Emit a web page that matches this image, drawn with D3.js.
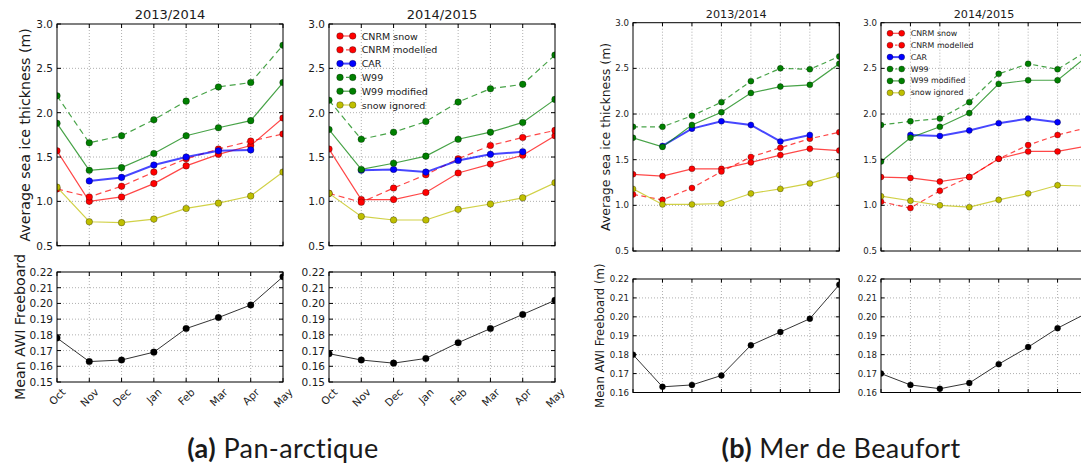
<!DOCTYPE html>
<html>
<head>
<meta charset="utf-8">
<script src="https://cdn.jsdelivr.net/npm/d3@7"></script>
<style>
  body { margin: 0; background: #fff; }
  svg { display: block; }
  text { font-family: "DejaVu Sans", sans-serif; fill: #1a1a1a; }
</style>
</head>
<body>
<svg id="chart" width="1081" height="466"></svg>
<script>
// Months on the x axis
const months = ["Oct", "Nov", "Dec", "Jan", "Feb", "Mar", "Apr", "May"];

// Pan-arctic, 2013/2014 (m)
const panCnrmSnow13  = [1.57, 1.00, 1.05, 1.20, 1.40, 1.53, 1.63, 1.94];
const panCnrmModel13 = [1.14, 1.05, 1.17, 1.33, 1.48, 1.59, 1.68, 1.76];
const panCar13       = [null, 1.23, 1.27, 1.41, 1.50, 1.57, 1.58, null];
const panW99_13      = [2.19, 1.66, 1.74, 1.92, 2.13, 2.29, 2.34, 2.76];
const panW99mod13    = [1.88, 1.35, 1.38, 1.54, 1.74, 1.83, 1.91, 2.34];
const panSnowIgn13   = [1.16, 0.77, 0.76, 0.80, 0.92, 0.98, 1.06, 1.33];

// Pan-arctic, 2014/2015 (m)
const panCnrmSnow14  = [1.59, 1.02, 1.02, 1.10, 1.32, 1.42, 1.52, 1.74];
const panCnrmModel14 = [1.09, 0.99, 1.15, 1.30, 1.48, 1.63, 1.72, 1.80];
const panCar14       = [null, 1.35, 1.36, 1.33, 1.46, 1.53, 1.56, null];
const panW99_14      = [2.14, 1.70, 1.78, 1.90, 2.12, 2.27, 2.32, 2.65];
const panW99mod14    = [1.81, 1.36, 1.43, 1.51, 1.70, 1.78, 1.89, 2.15];
const panSnowIgn14   = [1.09, 0.83, 0.79, 0.79, 0.91, 0.97, 1.04, 1.21];

// Pan-arctic mean AWI freeboard
const panFb13 = [0.178, 0.163, 0.164, 0.169, 0.184, 0.191, 0.199, 0.217];
const panFb14 = [0.168, 0.164, 0.162, 0.165, 0.175, 0.184, 0.193, 0.202];

// Beaufort Sea, 2013/2014 (m)
const bfCnrmSnow13  = [1.34, 1.32, 1.40, 1.40, 1.47, 1.55, 1.62, 1.60];
const bfCnrmModel13 = [1.12, 1.06, 1.19, 1.37, 1.53, 1.63, 1.73, 1.80];
const bfCar13       = [null, 1.65, 1.84, 1.92, 1.88, 1.70, 1.77, null];
const bfW99_13      = [1.86, 1.86, 1.98, 2.13, 2.36, 2.50, 2.49, 2.63];
const bfW99mod13    = [1.74, 1.64, 1.88, 2.02, 2.23, 2.30, 2.32, 2.55];
const bfSnowIgn13   = [1.18, 1.01, 1.01, 1.02, 1.13, 1.18, 1.24, 1.33];

// Beaufort Sea, 2014/2015 (m)
const bfCnrmSnow14  = [1.31, 1.30, 1.26, 1.31, 1.51, 1.59, 1.59, 1.65];
const bfCnrmModel14 = [1.04, 0.97, 1.16, 1.31, 1.51, 1.66, 1.77, 1.85];
const bfCar14       = [null, 1.77, 1.76, 1.82, 1.90, 1.95, 1.91, null];
const bfW99_14      = [1.88, 1.92, 1.95, 2.13, 2.44, 2.55, 2.49, 2.69];
const bfW99mod14    = [1.48, 1.74, 1.86, 2.01, 2.33, 2.37, 2.37, 2.63];
const bfSnowIgn14   = [1.10, 1.05, 1.00, 0.98, 1.06, 1.13, 1.22, 1.21];

// Beaufort Sea mean AWI freeboard
const bfFb13 = [0.180, 0.163, 0.164, 0.169, 0.185, 0.192, 0.199, 0.217];
const bfFb14 = [0.170, 0.164, 0.162, 0.165, 0.175, 0.184, 0.194, 0.202];

// Tick values
const thickTicks = [0.5, 1.0, 1.5, 2.0, 2.5, 3.0];
const panFbTicks = [0.15, 0.16, 0.17, 0.18, 0.19, 0.20, 0.21, 0.22];
const bfFbTicks  = [0.16, 0.17, 0.18, 0.19, 0.20, 0.21, 0.22];

// Series styles (legend order = drawing order)
const seriesStyle = [
    { label: "CNRM snow",     color: "#ff0000", dashed: false, lw: 1.2 },
    { label: "CNRM modelled", color: "#ff0000", dashed: true,  lw: 1.2 },
    { label: "CAR",           color: "#0000ff", dashed: false, lw: 2 },
    { label: "W99",           color: "#008000", dashed: true,  lw: 1.2 },
    { label: "W99 modified",  color: "#008000", dashed: false, lw: 1.2 },
    { label: "snow ignored",  color: "#bfbf00", dashed: false, lw: 1.2 }
];

const svg = d3.select("#chart");
let clipCount = 0;

function withStyle(values) {
    return values.map((v, i) => Object.assign({ values: v }, seriesStyle[i]));
}

function drawPanel(cfg) {
    const x = d3.scalePoint().domain(months).range([cfg.x0, cfg.x1]);
    const y = d3.scaleLinear().domain(cfg.yDomain).range([cfg.y1, cfg.y0]);
    const g = svg.append("g");

    // clip to the axes box, like matplotlib
    const id = "clip" + (clipCount++);
    svg.append("clipPath").attr("id", id)
        .append("rect")
        .attr("x", cfg.x0).attr("y", cfg.y0)
        .attr("width", cfg.x1 - cfg.x0).attr("height", cfg.y1 - cfg.y0);

    // dotted grid
    g.selectAll(".vgrid").data(months.slice(1, -1)).join("line")
        .attr("x1", d => x(d)).attr("x2", d => x(d))
        .attr("y1", cfg.y0).attr("y2", cfg.y1)
        .attr("stroke", "#8c8c8c").attr("stroke-width", 0.7)
        .attr("stroke-dasharray", "1,2");
    g.selectAll(".hgrid").data(cfg.yTicks.slice(1, -1)).join("line")
        .attr("x1", cfg.x0).attr("x2", cfg.x1)
        .attr("y1", d => y(d)).attr("y2", d => y(d))
        .attr("stroke", "#8c8c8c").attr("stroke-width", 0.7)
        .attr("stroke-dasharray", "1,2");

    // series
    const pg = g.append("g").attr("clip-path", `url(#${id})`);
    cfg.rows.forEach(s => {
        const pts = months.map((m, i) => ({ m: m, v: s.values[i] })).filter(d => d.v != null);
        const line = d3.line().x(d => x(d.m)).y(d => y(d.v));
        pg.append("path")
            .attr("d", line(pts))
            .attr("fill", "none")
            .attr("stroke", s.color)
            .attr("stroke-opacity", s.color === "#000" ? 0.8 : 0.72)
            .attr("stroke-width", s.lw)
            .attr("stroke-dasharray", s.dashed ? cfg.dash : null);
        pg.selectAll(null).data(pts).join("circle")
            .attr("cx", d => x(d.m))
            .attr("cy", d => y(d.v))
            .attr("r", cfg.r)
            .attr("fill", s.color)
            .attr("stroke", "#000").attr("stroke-opacity", 0.6)
            .attr("stroke-width", 0.5);
    });

    // frame
    g.append("rect")
        .attr("x", cfg.x0).attr("y", cfg.y0)
        .attr("width", cfg.x1 - cfg.x0).attr("height", cfg.y1 - cfg.y0)
        .attr("fill", "none").attr("stroke", "#000").attr("stroke-width", 1);

    // inward ticks on all sides
    const tl = cfg.tickLen;
    cfg.yTicks.forEach(t => {
        g.append("line").attr("x1", cfg.x0).attr("x2", cfg.x0 + tl)
            .attr("y1", y(t)).attr("y2", y(t)).attr("stroke", "#000");
        g.append("line").attr("x1", cfg.x1 - tl).attr("x2", cfg.x1)
            .attr("y1", y(t)).attr("y2", y(t)).attr("stroke", "#000");
    });
    months.forEach(m => {
        g.append("line").attr("x1", x(m)).attr("x2", x(m))
            .attr("y1", cfg.y1).attr("y2", cfg.y1 - tl).attr("stroke", "#000");
        g.append("line").attr("x1", x(m)).attr("x2", x(m))
            .attr("y1", cfg.y0).attr("y2", cfg.y0 + tl).attr("stroke", "#000");
    });

    // y tick labels
    g.selectAll(".ylab").data(cfg.yTicks).join("text")
        .attr("x", cfg.x0 - 4)
        .attr("y", d => y(d))
        .attr("text-anchor", "end")
        .attr("dominant-baseline", "central")
        .style("font-size", cfg.tickFont + "px")
        .text(d => d3.format(cfg.fmt)(d));

    // rotated month labels
    if (cfg.showX) {
        months.forEach(m => {
            const t = g.append("text")
                .attr("text-anchor", "middle")
                .attr("dominant-baseline", "central")
                .style("font-size", cfg.tickFont + "px")
                .text(m);
            const w = t.node().getComputedTextLength();
            const h = cfg.tickFont * 1.1;
            const cy = cfg.y1 + 4 + (w + h) * 0.7071 / 2;
            t.attr("transform", `translate(${x(m)},${cy}) rotate(-45)`);
        });
    }

    if (cfg.title) {
        g.append("text")
            .attr("x", (cfg.x0 + cfg.x1) / 2)
            .attr("y", cfg.y0 - 5)
            .attr("text-anchor", "middle")
            .style("font-size", cfg.titleFont + "px")
            .text(cfg.title);
    }

    if (cfg.ylabel) {
        g.append("text")
            .attr("transform", `translate(${cfg.ylabelX},${(cfg.y0 + cfg.y1) / 2}) rotate(-90)`)
            .attr("text-anchor", "middle")
            .attr("dominant-baseline", "central")
            .style("font-size", cfg.ylabelFont + "px")
            .text(cfg.ylabel);
    }

    if (cfg.legend) {
        const L = cfg.legend;
        seriesStyle.forEach((s, i) => {
            const yy = L.y + i * L.step;
            g.append("line")
                .attr("x1", L.x).attr("x2", L.x + L.w)
                .attr("y1", yy).attr("y2", yy)
                .attr("stroke", s.color).attr("stroke-opacity", 0.72)
                .attr("stroke-width", s.lw)
                .attr("stroke-dasharray", s.dashed ? L.dash : null);
            [L.x, L.x + L.w].forEach(cx => {
                g.append("circle").attr("cx", cx).attr("cy", yy).attr("r", cfg.r)
                    .attr("fill", s.color)
                    .attr("stroke", "#000").attr("stroke-opacity", 0.6)
                    .attr("stroke-width", 0.5);
            });
            g.append("text")
                .attr("x", L.x + L.w + 9)
                .attr("y", yy)
                .attr("dominant-baseline", "central")
                .style("font-size", L.font + "px")
                .text(s.label);
        });
    }
}

// ---------- (a) Pan-arctique ----------
const aTop = { y0: 24, y1: 245.7, yDomain: [0.5, 3.0], yTicks: thickTicks, fmt: ".1f",
               tickFont: 10.5, titleFont: 13, r: 3.3, tickLen: 4, dash: "6,4" };
drawPanel(Object.assign({}, aTop, { x0: 57, x1: 283, title: "2013/2014",
    ylabel: "Average sea ice thickness (m)", ylabelX: 25, ylabelFont: 14.2,
    rows: withStyle([panCnrmSnow13, panCnrmModel13, panCar13, panW99_13, panW99mod13, panSnowIgn13]) }));
drawPanel(Object.assign({}, aTop, { x0: 329, x1: 555, title: "2014/2015",
    rows: withStyle([panCnrmSnow14, panCnrmModel14, panCar14, panW99_14, panW99mod14, panSnowIgn14]),
    legend: { x: 340, w: 12.7, y: 36, step: 13.8, font: 9.5, dash: "3,3" } }));

const aBot = { y0: 272, y1: 382, yDomain: [0.15, 0.22], yTicks: panFbTicks, fmt: ".2f",
               tickFont: 10.5, r: 3.3, tickLen: 4, dash: null, showX: true };
drawPanel(Object.assign({}, aBot, { x0: 57, x1: 283,
    ylabel: "Mean AWI Freeboard", ylabelX: 20, ylabelFont: 14.2,
    rows: [{ values: panFb13, color: "#000", lw: 1 }] }));
drawPanel(Object.assign({}, aBot, { x0: 329, x1: 555,
    rows: [{ values: panFb14, color: "#000", lw: 1 }] }));

// ---------- (b) Mer de Beaufort ----------
const bTop = { y0: 22.7, y1: 251, yDomain: [0.5, 3.0], yTicks: thickTicks, fmt: ".1f",
               tickFont: 8.6, titleFont: 11.2, r: 3, tickLen: 3.5, dash: "5,3.5" };
drawPanel(Object.assign({}, bTop, { x0: 633, x1: 839.3, title: "2013/2014",
    ylabel: "Average sea ice thickness (m)", ylabelX: 605, ylabelFont: 12.5,
    rows: withStyle([bfCnrmSnow13, bfCnrmModel13, bfCar13, bfW99_13, bfW99mod13, bfSnowIgn13]) }));
drawPanel(Object.assign({}, bTop, { x0: 881, x1: 1087, title: "2014/2015",
    rows: withStyle([bfCnrmSnow14, bfCnrmModel14, bfCar14, bfW99_14, bfW99mod14, bfSnowIgn14]),
    legend: { x: 890, w: 11.7, y: 33.3, step: 11.9, font: 7.9, dash: "2.5,2.5" } }));

const bBot = { y0: 279, y1: 392.5, yDomain: [0.16, 0.22], yTicks: bfFbTicks, fmt: ".2f",
               tickFont: 8.6, r: 3, tickLen: 3.5, dash: null };
drawPanel(Object.assign({}, bBot, { x0: 633, x1: 839.3,
    ylabel: "Mean AWI Freeboard (m)", ylabelX: 600, ylabelFont: 11.7,
    rows: [{ values: bfFb13, color: "#000", lw: 1 }] }));
drawPanel(Object.assign({}, bBot, { x0: 881, x1: 1087,
    rows: [{ values: bfFb14, color: "#000", lw: 1 }] }));

// ---------- captions ----------
function caption(cx, tag, label) {
    const t = svg.append("text")
        .attr("x", cx).attr("y", 458)
        .attr("text-anchor", "middle")
        .style("font-family", "Lato, 'DejaVu Sans', sans-serif")
        .style("font-size", "27px")
        .style("letter-spacing", "0.4px");
    t.append("tspan").style("font-weight", "bold").text(tag);
    t.append("tspan").text(" " + label);
}
caption(283, "(a)", "Pan-arctique");
caption(841, "(b)", "Mer de Beaufort");
</script>
</body>
</html>
